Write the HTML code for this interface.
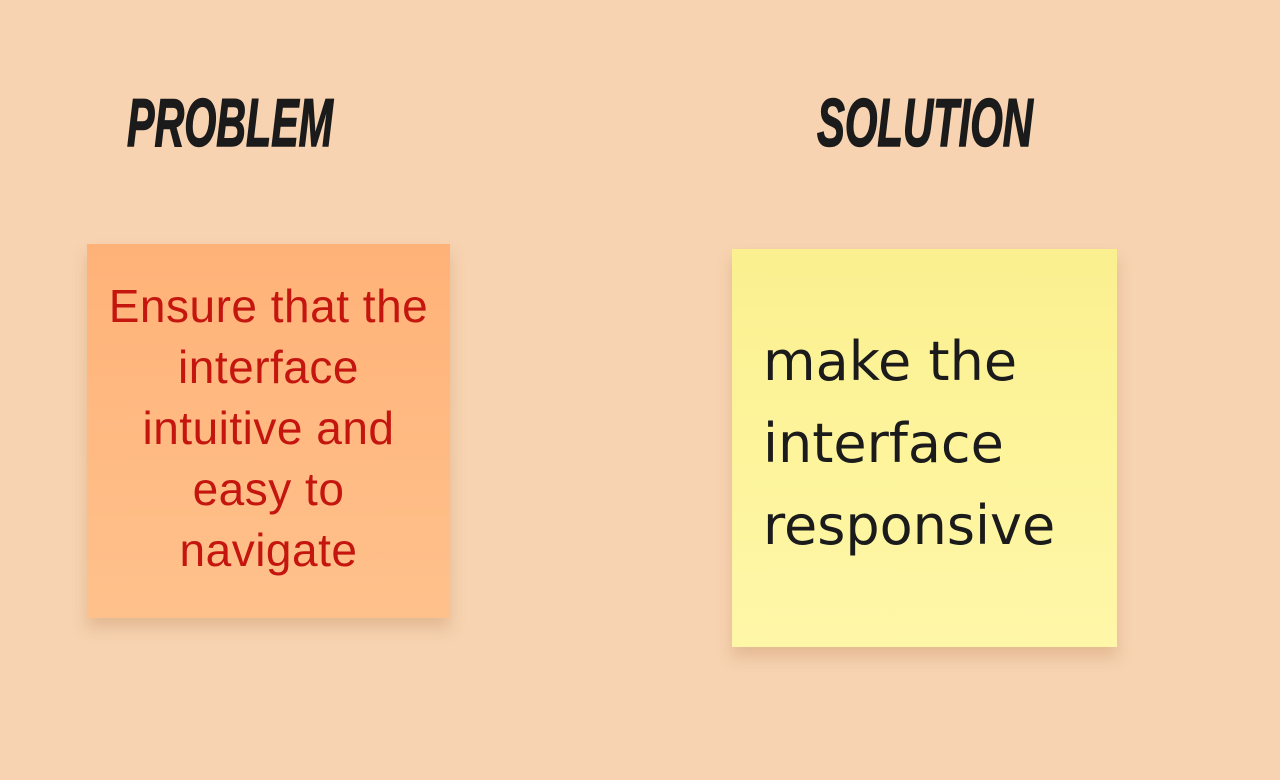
<!DOCTYPE html>
<html><head><meta charset="utf-8"><style>
html,body{margin:0;padding:0;}
body{width:1280px;height:780px;background:#f7d3b1;position:relative;overflow:hidden;font-family:"Liberation Sans",sans-serif;}
.s1{position:absolute;left:87px;top:244px;width:363px;height:374px;background:linear-gradient(#ffb278,#ffc18c);box-shadow:0 10px 14px rgba(170,110,60,0.25);}
.s2{position:absolute;left:732px;top:249px;width:385px;height:398px;background:linear-gradient(#fbf08f,#fff7a8);box-shadow:0 10px 14px rgba(170,110,60,0.25);}
.t1{position:absolute;left:67px;width:403px;text-align:center;color:#c4160f;font-size:46px;letter-spacing:0.5px;line-height:61px;top:276px;}
.t2{position:absolute;left:763px;color:#1b1b1b;font-family:"DejaVu Sans",sans-serif;font-size:54px;line-height:82px;top:321px;}
svg{position:absolute;left:0;top:0;}
</style></head><body>
<div class="s1"></div>
<div class="s2"></div>
<div class="t1">Ensure that the<br>interface<br>intuitive and<br>easy to<br>navigate</div>
<div class="t2">make the<br>interface<br>responsive</div>
<svg width="1280" height="780">
<text x="127" y="146" font-family="Liberation Sans Narrow, Liberation Sans, sans-serif" font-weight="bold" font-style="italic" font-size="68" fill="#1b1b1b" stroke="#1b1b1b" stroke-width="1.5" textLength="206" lengthAdjust="spacingAndGlyphs">PROBLEM</text>
<text x="817" y="146" font-family="Liberation Sans Narrow, Liberation Sans, sans-serif" font-weight="bold" font-style="italic" font-size="68" fill="#1b1b1b" stroke="#1b1b1b" stroke-width="1.5" textLength="216" lengthAdjust="spacingAndGlyphs">SOLUTION</text>
</svg>
</body></html>
